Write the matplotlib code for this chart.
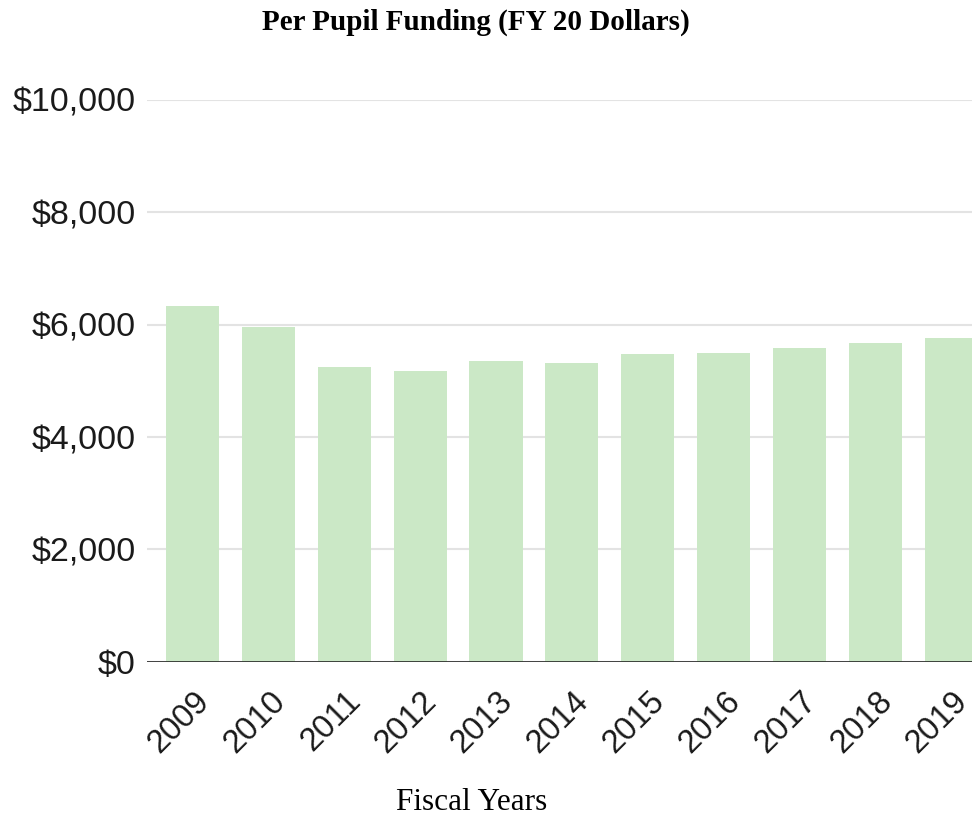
import matplotlib.pyplot as plt
import matplotlib.transforms as mtransforms
from matplotlib.ticker import FuncFormatter

years = ["2009", "2010", "2011", "2012", "2013", "2014", "2015", "2016", "2017", "2018", "2019"]
funding = [6340, 5955, 5255, 5180, 5350, 5320, 5470, 5490, 5580, 5665, 5765]
yticks = [0, 2000, 4000, 6000, 8000, 10000]

W, H = 972, 818
fig = plt.figure(figsize=(W / 100, H / 100), dpi=100)

# axes runs past the right edge, like the cropped original
left, right, top, bottom = 147, 1065, 100, 661.7
ax = fig.add_axes([left / W, (H - bottom) / H, (right - left) / W, (bottom - top) / H])

x = list(range(len(years)))
ax.bar(x, funding, width=0.70, color="#cbe8c6", zorder=2)

ax.set_xlim(-0.6, 11.5)
ax.set_ylim(0, 10000)
ax.set_yticks(yticks)
ax.yaxis.set_major_formatter(FuncFormatter(lambda v, p: "${:,.0f}".format(v)))
ax.grid(axis="y", color="#e3e3e3", linewidth=1.5, zorder=0)
ax.axhline(0, color="#111111", linewidth=1.8, zorder=3)

for s in ax.spines.values():
    s.set_visible(False)
ax.tick_params(axis="both", length=0)
ax.tick_params(axis="y", pad=8, labelsize=24.5, labelcolor="#1a1a1a")

ax.set_xticks(x)
ax.set_xticklabels(years, rotation=45, ha="right", va="center",
                   rotation_mode="anchor", fontsize=23.5, color="#1a1a1a")
offset = mtransforms.ScaledTranslation(0.12, -0.30, fig.dpi_scale_trans)
for lbl in ax.get_xticklabels():
    lbl.set_transform(lbl.get_transform() + offset)
for lbl in ax.get_yticklabels():
    lbl.set_fontfamily("Liberation Sans")
for lbl in ax.get_xticklabels():
    lbl.set_fontfamily("Liberation Sans")

fig.text(476 / W, 1 - 22 / H, "Per Pupil Funding (FY 20 Dollars)", ha="center", va="center",
         fontsize=21, fontweight="bold", family="Liberation Serif")
fig.text(472 / W, 1 - 803 / H, "Fiscal Years", ha="center", va="center",
         fontsize=22.5, family="Liberation Serif")

fig.savefig("out.png", dpi=100)
